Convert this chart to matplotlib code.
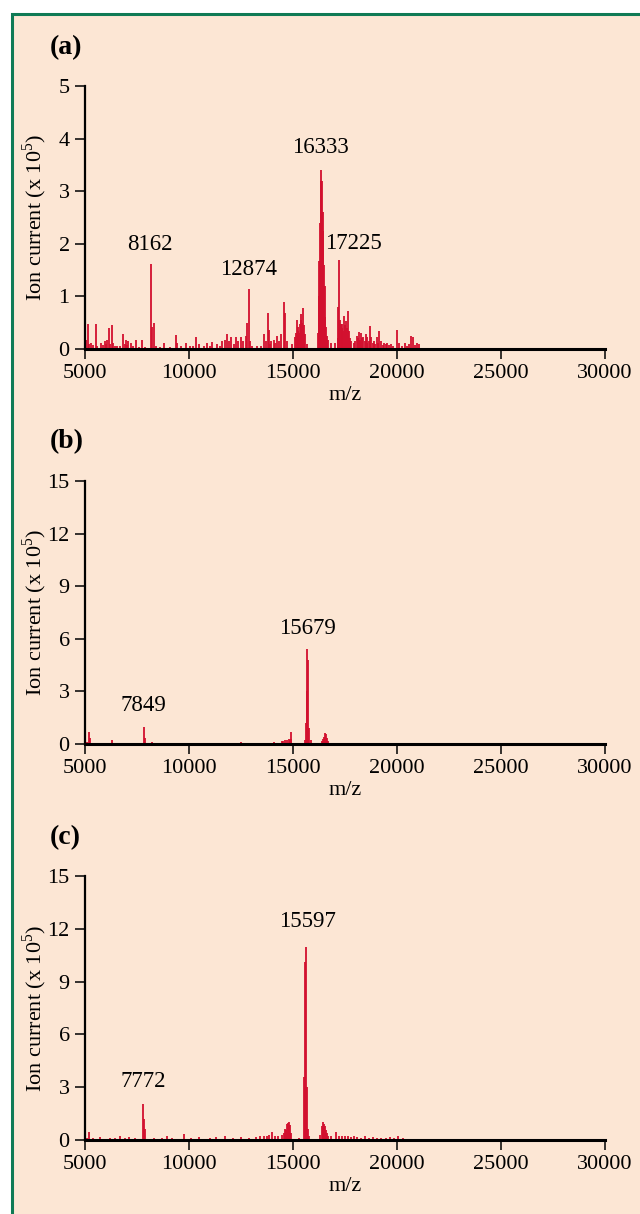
"""
Recreate three stacked MALDI-style mass spectra, panels (a), (b), (c).
"""

import matplotlib

matplotlib.use("Agg")

import matplotlib.pyplot as plt
from matplotlib.patches import Rectangle


plt.rcParams["font.family"] = ["Liberation Serif", "DejaVu Serif"]
plt.rcParams["mathtext.fontset"] = "custom"
plt.rcParams["mathtext.rm"] = "Liberation Serif"

RED = "#D2102E"
BACKGROUND = "#FCE6D4"
BORDER = "#0F7A55"

X_TICKS = [5000, 10000, 15000, 20000, 25000, 30000]

# panel (a): stick positions (m/z) and heights (x 10^5)
mz_a = [
    5050, 5144, 5200, 5305, 5400, 5513, 5600, 5754, 5850, 5946, 6000, 6074,
    6154, 6220, 6282, 6363, 6450, 6555, 6700, 6844, 6900, 6956, 7010, 7068,
    7196, 7300, 7437, 7600, 7757, 7900, 8162, 8222, 8302, 8398, 8600, 8799,
    9100, 9360, 9440, 9600, 9841, 10050, 10200, 10322, 10482, 10700, 10883,
    11000, 11124, 11364, 11500, 11604, 11717, 11813, 11925, 12037, 12150,
    12246, 12374, 12486, 12614, 12727, 12807, 12874, 12935, 13047, 13288,
    13450, 13608, 13704, 13784, 13849, 13900, 13961, 14089, 14150, 14217,
    14330, 14442, 14570, 14634, 14730, 14971, 15083, 15140, 15179, 15220,
    15259, 15300, 15339, 15370, 15404, 15440, 15484, 15520, 15564, 15660,
    16200, 16240, 16269, 16300, 16333, 16365, 16397, 16430, 16462, 16494,
    16526, 16560, 16606, 16650, 16702, 16814, 17007, 17140, 17167, 17200,
    17231, 17260, 17295, 17335, 17375, 17415, 17455, 17495, 17535, 17590,
    17648, 17712, 17760, 17808, 17936, 18000, 18065, 18120, 18177, 18230,
    18289, 18330, 18385, 18440, 18497, 18540, 18578, 18630, 18690, 18770,
    18830, 18898, 18960, 19026, 19090, 19155, 19251, 19320, 19379, 19460,
    19539, 19620, 19700, 19800, 19988, 20100, 20250, 20373, 20480, 20581,
    20693, 20773, 20880, 20981, 21060,
]
int_a = [
    0.18, 0.47, 0.10, 0.12, 0.08, 0.47, 0.06, 0.12, 0.08, 0.15, 0.10, 0.18,
    0.39, 0.10, 0.45, 0.12, 0.05, 0.06, 0.05, 0.29, 0.10, 0.18, 0.08, 0.15,
    0.12, 0.05, 0.18, 0.04, 0.18, 0.03, 1.61, 0.41, 0.49, 0.06, 0.04, 0.11,
    0.04, 0.26, 0.12, 0.05, 0.12, 0.06, 0.05, 0.23, 0.09, 0.05, 0.12,
    0.06, 0.13, 0.09, 0.05, 0.15, 0.18, 0.29, 0.15, 0.22, 0.10,
    0.22, 0.15, 0.22, 0.15, 0.25, 0.50, 1.15, 0.15, 0.06, 0.06,
    0.05, 0.29, 0.15, 0.68, 0.37, 0.10, 0.15, 0.18, 0.12, 0.25,
    0.15, 0.28, 0.89, 0.69, 0.15, 0.09, 0.22, 0.30, 0.56, 0.35,
    0.41, 0.30, 0.47, 0.55, 0.67, 0.50, 0.77, 0.45, 0.28, 0.09,
    0.30, 1.00, 1.67, 2.40, 3.40, 3.20, 3.19, 2.60, 2.24, 1.60,
    1.20, 0.60, 0.41, 0.25, 0.18, 0.12, 0.11, 0.20, 0.80, 0.40,
    1.69, 0.55, 0.47, 0.40, 0.48, 0.35, 0.63, 0.45, 0.53, 0.40,
    0.72, 0.34, 0.20, 0.15, 0.12, 0.15, 0.25, 0.20, 0.32, 0.18,
    0.31, 0.20, 0.22, 0.15, 0.29, 0.12, 0.22, 0.15, 0.44, 0.22,
    0.12, 0.15, 0.10, 0.22, 0.12, 0.34, 0.15, 0.08, 0.12, 0.10,
    0.12, 0.08, 0.09, 0.06, 0.37, 0.12, 0.06, 0.12, 0.05, 0.10,
    0.25, 0.22, 0.08, 0.12, 0.10,
]

# panel (b)
mz_b = [
    5100, 5192, 5230, 5400, 6000, 6283, 6700, 7000, 7300, 7500, 7600, 7837,
    7870, 8200, 8700, 8900, 12500, 13900, 14100, 14300, 14450, 14520, 14600,
    14700, 14800, 14850, 14890, 14920, 15600, 15625, 15650, 15690, 15720,
    15760, 15850, 16400, 16460, 16500, 16540, 16580, 16620, 16680, 16800,
    17100, 17400, 20900,
]
int_b = [
    0.10, 0.70, 0.35, 0.08, 0.05, 0.23, 0.05, 0.06, 0.04, 0.06, 0.06, 0.95,
    0.35, 0.10, 0.06, 0.06, 0.10, 0.05, 0.10, 0.08, 0.15, 0.15, 0.25,
    0.20, 0.30, 0.25, 0.70, 0.30, 0.20, 1.20, 3.05, 5.42, 4.80,
    0.90, 0.20, 0.15, 0.30, 0.40, 0.60, 0.55, 0.35, 0.15, 0.06,
    0.05, 0.05, 0.07,
]

# panel (c)
mz_c = [
    5080, 5170, 5400, 5700, 6200, 6450, 6660, 6900, 7100, 7400, 7783, 7840,
    7900, 8300, 8700, 8950, 9200, 9745, 10100, 10500, 11000, 11300, 11707,
    12100, 12500, 12900, 13200, 13400, 13600, 13750, 13850, 14000, 14150,
    14300, 14450, 14550, 14620, 14680, 14720, 14750, 14790, 14830, 14870,
    14920, 15300, 15550, 15597, 15640, 15680, 15720, 15780, 16300, 16380,
    16420, 16450, 16490, 16530, 16580, 16620, 16700, 16850, 17070, 17200,
    17350, 17500, 17650, 17800, 17950, 18100, 18250, 18470, 18650, 18850,
    19050, 19250, 19450, 19650, 19850, 20050, 20300, 20600, 20900,
]
int_c = [
    0.10, 0.45, 0.10, 0.15, 0.10, 0.12, 0.25, 0.10, 0.15, 0.10, 2.04, 1.18,
    0.60, 0.10, 0.12, 0.20, 0.10, 0.35, 0.10, 0.15, 0.12, 0.15, 0.25,
    0.10, 0.15, 0.12, 0.15, 0.20, 0.25, 0.20, 0.30, 0.45, 0.20,
    0.25, 0.30, 0.40, 0.65, 0.55, 0.90, 0.96, 0.80, 1.02, 0.85,
    0.40, 0.10, 3.60, 10.10, 10.98, 3.00, 0.60, 0.20, 0.30, 0.80,
    0.70, 1.05, 0.90, 0.80, 0.55, 0.40, 0.20, 0.25, 0.45, 0.25,
    0.20, 0.25, 0.20, 0.15, 0.20, 0.15, 0.12, 0.25, 0.12, 0.15,
    0.10, 0.12, 0.10, 0.15, 0.12, 0.20, 0.10, 0.08, 0.06,
]

PANELS = [
    {
        "tag": "(a)",
        "mz": mz_a,
        "intensity": int_a,
        "y_max": 5,
        "y_ticks": [0, 1, 2, 3, 4, 5],
        "labels": [("8162", 8125, 1.98), ("12874", 12885, 1.52),
                   ("16333", 16300, 3.84), ("17225", 17885, 2.01)],
        "rect": [85 / 640, 1 - 349 / 1214, 520 / 640, 263 / 1214],
        "tag_y": 1 - 48 / 1214,
    },
    {
        "tag": "(b)",
        "mz": mz_b,
        "intensity": int_b,
        "y_max": 15,
        "y_ticks": [0, 3, 6, 9, 12, 15],
        "labels": [("7849", 7812, 2.22), ("15679", 15720, 6.56)],
        "rect": [85 / 640, 1 - 744 / 1214, 520 / 640, 263 / 1214],
        "tag_y": 1 - 442 / 1214,
    },
    {
        "tag": "(c)",
        "mz": mz_c,
        "intensity": int_c,
        "y_max": 15,
        "y_ticks": [0, 3, 6, 9, 12, 15],
        "labels": [("7772", 7790, 3.35), ("15597", 15700, 12.4)],
        "rect": [85 / 640, 1 - 1140 / 1214, 520 / 640, 264 / 1214],
        "tag_y": 1 - 838 / 1214,
    },
]


def draw_panel(fig, panel):
    ax = fig.add_axes(panel["rect"])
    ax.set_facecolor("none")

    ax.vlines(panel["mz"], 0, panel["intensity"], color=RED, linewidth=1.3)

    ax.set_xlim(5000, 30000)
    ax.set_ylim(0, panel["y_max"])
    ax.set_xticks(X_TICKS)
    ax.set_yticks(panel["y_ticks"])

    for side in ["top", "right"]:
        ax.spines[side].set_visible(False)
    ax.spines["bottom"].set_linewidth(2.2)
    ax.spines["left"].set_linewidth(1.6)

    ax.tick_params(direction="out", length=7, width=1.1, labelsize=16, pad=4)
    ax.set_xlabel("m/z", fontsize=16, labelpad=2)
    ax.set_ylabel("Ion current (x 10$^5$)", fontsize=16)
    ax.yaxis.set_label_coords(-0.070, 0.5)

    for text, x, y in panel["labels"]:
        ax.text(x, y, text, ha="center", va="center", fontsize=16.5)

    fig.text(50 / 640, panel["tag_y"], panel["tag"], ha="left", va="center",
             fontsize=20, fontweight="bold")

    return ax


def main():
    fig = plt.figure(figsize=(6.4, 12.14), dpi=100)
    fig.patch.set_facecolor("white")

    box = Rectangle((12 / 640, -0.05), 1.1, 1 - 14 / 1214 + 0.05,
                    transform=fig.transFigure, facecolor=BACKGROUND,
                    edgecolor=BORDER, linewidth=2.2, zorder=-10)
    fig.patches.append(box)

    for panel in PANELS:
        draw_panel(fig, panel)

    fig.savefig("out.png", dpi=100)
    plt.close(fig)


if __name__ == "__main__":
    main()
